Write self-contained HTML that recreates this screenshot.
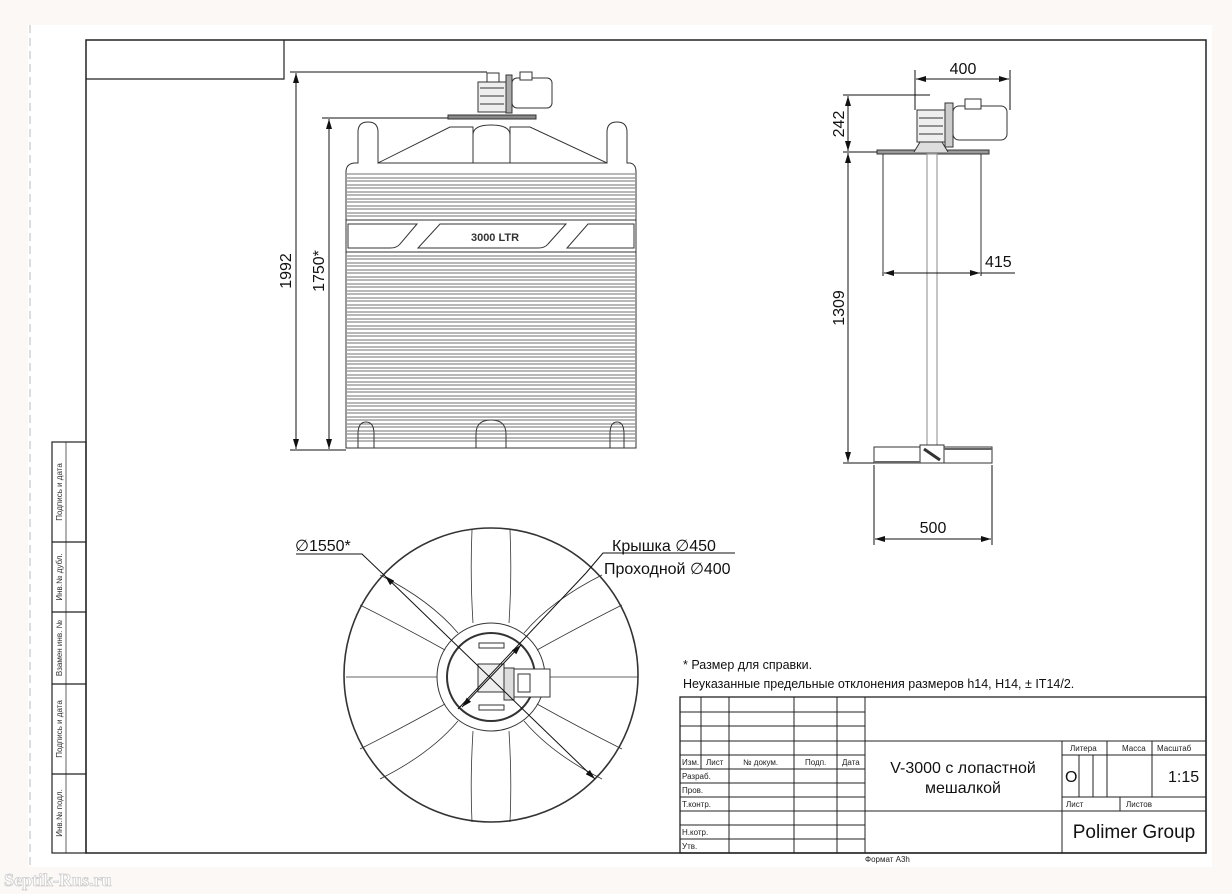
<!DOCTYPE html>
<html><head><meta charset="utf-8"><style>
html,body{margin:0;padding:0;background:#fcf8f6;}
svg{display:block;font-family:"Liberation Sans",Arial,sans-serif;}
</style></head><body>
<svg width="1232" height="894" viewBox="0 0 1232 894" xmlns="http://www.w3.org/2000/svg">
<defs>
<marker id="a" viewBox="0 0 10 6" refX="10" refY="3" markerWidth="10" markerHeight="6" orient="auto-start-reverse" markerUnits="userSpaceOnUse"><path d="M0,0L10,3L0,6z" fill="#111"/></marker>
</defs>
<rect x="28" y="25" width="1184" height="842" fill="#fff"/>
<line x1="30" y1="25" x2="30" y2="867" stroke="#bbb" stroke-dasharray="8,5"/>
<g stroke="#222" fill="none">
<rect x="86" y="40" width="1120" height="813" stroke-width="1.5"/>
<path d="M86,79H284V40" stroke-width="1.2"/>
<rect x="52" y="442" width="34" height="411" stroke-width="1.2"/>
<line x1="66" y1="442" x2="66" y2="853" stroke-width="0.7"/>
<path d="M52,542H86M52,612H86M52,684H86M52,774H86" stroke-width="1.2"/>
</g>
<g font-size="8" fill="#333">
<text transform="translate(62,492) rotate(-90)" text-anchor="middle">Подпись и дата</text>
<text transform="translate(62,577) rotate(-90)" text-anchor="middle">Инв.№ дубл.</text>
<text transform="translate(62,648) rotate(-90)" text-anchor="middle">Взамен инв. №</text>
<text transform="translate(62,729) rotate(-90)" text-anchor="middle">Подпись и дата</text>
<text transform="translate(62,813) rotate(-90)" text-anchor="middle">Инв.№ подл.</text>
</g>

<!-- FRONT VIEW TANK -->
<g stroke="#333" fill="none" stroke-width="1">
<path d="M346,448V172Q346,164 354,163H358V132Q358,122 368,122Q378,122 378,132V163L450,127H473V135Q473,125 491,125Q510,125 510,135V127H530L607,163V132Q607,122 617,122Q627,122 627,132V163H630Q636,164 636,172V448Z"/>
<path d="M378,163H607M473,163V135M510,163V135"/>
<rect x="448" y="115" width="88" height="4" fill="#888"/>
<path d="M346,220H636M346,252H636"/>
<path d="M348,224H417L400,244Q397,248 390,248H348Z"/>
<path d="M440,224H566L548,244Q545,248 538,248H418Z"/>
<path d="M588,224H634V248H567Z"/>
<path d="M358,448V434Q358,422 366,422Q374,422 374,434V448M476,448V434Q476,420 491,420Q506,420 506,434V448M610,448V434Q610,422 617,422Q624,422 624,434V448"/>
</g>
<g stroke="#444" stroke-width="0.8">
<path d="M347,174H635M347,178H635M347,181H635M347,185H635M347,188H635M347,192H635M347,195H635M347,199H635M347,202H635M347,206H635M347,209H635M347,213H635M347,216H635"/>
<path d="M347,256H635M347,259H635M347,263H635M347,266H635M347,270H635M347,273H635M347,277H635M347,280H635M347,284H635M347,287H635M347,291H635M347,294H635M347,298H635M347,301H635M347,305H635M347,308H635M347,312H635M347,315H635M347,319H635M347,322H635M347,326H635M347,329H635M347,333H635M347,336H635M347,340H635M347,343H635M347,347H635M347,350H635M347,354H635M347,357H635M347,361H635M347,364H635M347,368H635M347,371H635M347,375H635M347,378H635M347,382H635M347,385H635M347,389H635M347,392H635M347,396H635M347,399H635M347,403H635M347,406H635M347,410H635M347,413H635M347,417H635M347,420H635M347,424H635M347,427H635M347,431H635M347,434H635M347,438H635M347,441H635"/>
</g>
<text x="495" y="241" font-size="11" font-weight="bold" text-anchor="middle" fill="#333">3000 LTR</text>
<g stroke="#333" fill="#eee" stroke-width="1">
<rect x="478" y="82" width="28" height="30"/>
<rect x="487" y="73" width="12" height="9" fill="#fff"/>
<rect x="506" y="75" width="6" height="38" fill="#aaa"/>
<rect x="512" y="78" width="40" height="30" rx="5" fill="#fff"/>
<rect x="520" y="72" width="12" height="8" fill="#fff"/>
<path d="M480,88H504M480,96H504M480,104H504" fill="none"/>
</g>
<g stroke="#111" stroke-width="1" fill="none">
<path d="M290,72H487M322,118H448M290,450H346"/>
<line x1="296" y1="73" x2="296" y2="449" marker-start="url(#a)" marker-end="url(#a)"/>
<line x1="329" y1="119" x2="329" y2="449" marker-start="url(#a)" marker-end="url(#a)"/>
</g>
<text transform="translate(291,271) rotate(-90)" font-size="16" text-anchor="middle" fill="#111">1992</text>
<text transform="translate(324,271) rotate(-90)" font-size="16" text-anchor="middle" fill="#111">1750*</text>

<!-- SIDE VIEW -->
<g stroke="#333" fill="none" stroke-width="1">
<rect x="877" y="150" width="112" height="4" fill="#999"/>
<path d="M883,154V272M981,154V272"/>
<rect x="927" y="154" width="10" height="292" stroke="#888"/>
<rect x="874" y="447" width="118" height="16"/>
<rect x="920" y="445" width="24" height="18" fill="#fff"/>
<path d="M924,449L940,460" stroke-width="3"/>
<path d="M874,462H920M944,449H992" stroke-width="2" stroke="#666"/>
<rect x="917" y="110" width="28" height="32" fill="#eee"/>
<path d="M914,152L920,142H942L948,152" fill="#ddd"/>
<rect x="945" y="103" width="8" height="44" fill="#ccc"/>
<rect x="953" y="106" width="54" height="34" rx="6" fill="#fff"/>
<rect x="965" y="99" width="16" height="10" fill="#fff"/>
<path d="M919,118H943M919,126H943M919,134H943"/>
</g>
<g stroke="#111" stroke-width="1" fill="none">
<path d="M915,70V110M1010,70V110M843,95H930M843,152H877M843,463H874M883,272V276M981,272V276M981,273H1015M874,465V545M992,465V545"/>
<line x1="916" y1="79" x2="1009" y2="79" marker-start="url(#a)" marker-end="url(#a)"/>
<line x1="848" y1="96" x2="848" y2="151" marker-start="url(#a)" marker-end="url(#a)"/>
<line x1="848" y1="153" x2="848" y2="462" marker-start="url(#a)" marker-end="url(#a)"/>
<line x1="884" y1="273" x2="980" y2="273" marker-start="url(#a)" marker-end="url(#a)"/>
<line x1="875" y1="539" x2="991" y2="539" marker-start="url(#a)" marker-end="url(#a)"/>
</g>
<g font-size="16" fill="#111">
<text x="963" y="74" text-anchor="middle">400</text>
<text transform="translate(844,124) rotate(-90)" text-anchor="middle">242</text>
<text transform="translate(844,308) rotate(-90)" text-anchor="middle">1309</text>
<text x="985" y="267">415</text>
<text x="933" y="533" text-anchor="middle">500</text>
</g>

<!-- TOP VIEW -->
<g stroke="#333" fill="none" stroke-width="1">
<circle cx="491" cy="675" r="147" stroke-width="1.6"/>
<circle cx="491" cy="677" r="54"/>
<circle cx="491" cy="677" r="44" stroke-width="2"/>
<g stroke-width="0.8">
<path d="M473,623Q470,575 472,530M509,623Q512,575 510,530"/>
<path d="M473,731Q470,780 472,822M509,731Q512,780 510,822"/>
<path d="M437,677H346M545,677H638"/>
<path d="M445,650Q400,625 360,605M537,650Q582,625 622,605"/>
<path d="M445,704Q400,729 360,749M537,704Q582,729 622,749"/>
<path d="M458,633Q430,600 380,575M524,633Q552,600 602,575"/>
<path d="M458,721Q430,754 380,779M524,721Q552,754 602,779"/>
</g>
<rect x="479" y="643" width="25" height="5"/>
<rect x="479" y="705" width="25" height="5"/>
<rect x="478" y="664" width="26" height="28" fill="#eee"/>
<rect x="504" y="668" width="10" height="32" fill="#ddd"/>
<rect x="514" y="669" width="36" height="28" fill="#fff"/>
<rect x="518" y="674" width="12" height="18"/>
</g>
<g stroke="#111" stroke-width="1" fill="none">
<path d="M296,554H362L385,576"/>
<line x1="385" y1="576" x2="595" y2="779" marker-start="url(#a)" marker-end="url(#a)"/>
<path d="M735,553H603L586,573"/>
<line x1="586" y1="573" x2="458" y2="709"/>
<line x1="521" y1="645" x2="462" y2="707" marker-start="url(#a)" marker-end="url(#a)"/>
</g>
<g font-size="16" fill="#111">
<text x="295" y="551">∅1550*</text>
<text x="612" y="551">Крышка ∅450</text>
<text x="604" y="574">Проходной ∅400</text>
</g>
<g font-size="12.5" fill="#111">
<text x="683" y="669">* Размер для справки.</text>
<text x="683" y="688">Неуказанные предельные отклонения размеров h14, H14, ± IT14/2.</text>
</g>

<!-- TITLE BLOCK -->
<g stroke="#222" fill="none" stroke-width="1">
<rect x="680" y="697" width="526" height="156" stroke-width="1.3"/>
<path d="M680,712H865M680,726H865M680,741H1206M680,755H865M680,769H865M680,783H865M680,797H865M680,811H1206M680,825H865M680,839H865"/>
<path d="M865,697V853M701,697V769M729,697V853M794,697V853M837,697V853"/>
<path d="M1062,741V853M1107,741V797M1152,741V797M1062,755H1206M1062,797H1206M1079,755V797M1093,755V797M1120,797V811"/>
</g>
<g font-size="8" fill="#222">
<text x="682" y="765">Изм.</text><text x="706" y="765">Лист</text><text x="743" y="765">№ докум.</text><text x="805" y="765">Подп.</text><text x="842" y="765">Дата</text>
<text x="682" y="779">Разраб.</text><text x="682" y="793">Пров.</text><text x="682" y="807">Т.контр.</text>
<text x="682" y="835">Н.котр.</text><text x="682" y="849">Утв.</text>
<text x="1070" y="751">Литера</text><text x="1122" y="751">Масса</text><text x="1157" y="751">Масштаб</text>
<text x="1066" y="807">Лист</text><text x="1126" y="807">Листов</text>
<text x="865" y="862">Формат А3h</text>
</g>
<g font-size="16" fill="#111">
<text x="963" y="773" text-anchor="middle">V-3000 с лопастной</text>
<text x="963" y="793" text-anchor="middle">мешалкой</text>
<text x="1065" y="782">O</text>
<text x="1168" y="782">1:15</text>
<text x="1134" y="838" text-anchor="middle" font-size="19">Polimer Group</text>
</g>
<text x="4" y="886" font-size="18" font-weight="bold" fill="#fff" stroke="#ccc" stroke-width="0.8" font-family="Liberation Serif,serif">Septik-Rus.ru</text>
</svg>
</body></html>
